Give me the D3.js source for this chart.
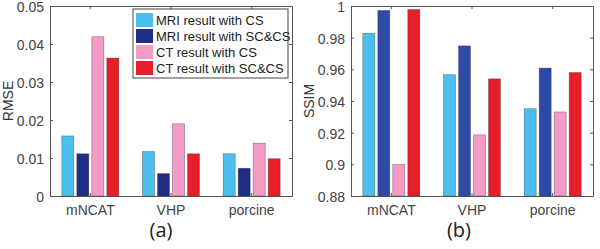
<!DOCTYPE html>
<html>
<head>
<meta charset="utf-8">
<script src="https://cdn.jsdelivr.net/npm/d3@7"></script>
<style>
  body { margin: 0; background: #fff; }
  svg { display: block; }
</style>
</head>
<body>
<div id="chart"></div>
<script>
// data
const categories = ["mNCAT", "VHP", "porcine"];
const series = ["MRI result with CS", "MRI result with SC&CS", "CT result with CS", "CT result with SC&CS"];

// RMSE per series, one value per category
const rmseMriCS   = [0.0158, 0.0117, 0.0111];
const rmseMriSCCS = [0.0111, 0.0059, 0.0073];
const rmseCtCS    = [0.0419, 0.0190, 0.0139];
const rmseCtSCCS  = [0.0363, 0.0111, 0.0098];

// SSIM per series
const ssimMriCS   = [0.9828, 0.9566, 0.9351];
const ssimMriSCCS = [0.9972, 0.9748, 0.9608];
const ssimCtCS    = [0.8998, 0.9186, 0.9331];
const ssimCtSCCS  = [0.9978, 0.9540, 0.9580];

const rmseTicks = [0, 0.01, 0.02, 0.03, 0.04, 0.05];
const ssimTicks = [0.88, 0.9, 0.92, 0.94, 0.96, 0.98, 1];

const colorsA = ["#4dbfee", "#1f2d84", "#f59bc8", "#e81e2a"];
const colorsB = ["#4dbfee", "#2f4aa6", "#f59bc8", "#e81e2a"];

const width = 600;
const height = 249;

const svg = d3.select("#chart").append("svg")
  .attr("width", width)
  .attr("height", height)
  .attr("viewBox", [0, 0, width, height])
  .style("font-family", "'Liberation Sans', Arial, sans-serif");

// zeichnet ein Panel (Achsenbox + gruppierte Balken)
function drawPanel(opt) {
  const { left, right, top, bottom, domain, ticks, values, colors, ylabel, caption, captionX } = opt;

  const rows = categories.map((c, i) => ({
    category: c,
    vals: values.map((s, j) => ({ key: series[j], value: s[i], color: colors[j] }))
  }));

  const x0 = d3.scaleBand()
    .domain(categories)
    .range([left, right])
    .padding(0);

  const x1 = d3.scaleBand()
    .domain(series)
    .range([-30, 30])
    .paddingInner(0.2)
    .paddingOuter(0.1);

  const y = d3.scaleLinear()
    .domain(domain)
    .range([bottom, top]);

  const g = svg.append("g");

  // Balken
  g.append("g")
    .selectAll("g")
    .data(rows)
    .join("g")
    .attr("transform", d => `translate(${x0(d.category) + x0.bandwidth() / 2},0)`)
    .selectAll("rect")
    .data(d => d.vals)
    .join("rect")
    .attr("x", d => x1(d.key))
    .attr("y", d => y(d.value))
    .attr("width", x1.bandwidth())
    .attr("height", d => y(domain[0]) - y(d.value))
    .attr("fill", d => d.color)
    .attr("stroke", "#3a3a3a")
    .attr("stroke-opacity", 0.6)
    .attr("stroke-width", 0.6);

  // linke Achse
  g.append("g")
    .attr("transform", `translate(${left},0)`)
    .call(d3.axisLeft(y).tickValues(ticks).tickFormat(d3.format("~g")).tickSizeInner(-3).tickSizeOuter(0).tickPadding(6))
    .call(a => a.select(".domain").attr("stroke", "#555"))
    .call(a => a.selectAll(".tick line").attr("stroke", "#555"))
    .call(a => a.selectAll("text").attr("fill", "#444").attr("dy", "0.4em").style("font-size", "14px").attr("font-family", null));

  // rechte Achse (nur Ticks)
  g.append("g")
    .attr("transform", `translate(${right},0)`)
    .call(d3.axisRight(y).tickValues(ticks).tickFormat("").tickSizeInner(-3).tickSizeOuter(0))
    .call(a => a.select(".domain").attr("stroke", "#555"))
    .call(a => a.selectAll(".tick line").attr("stroke", "#555"));

  // untere Achse
  g.append("g")
    .attr("transform", `translate(0,${bottom})`)
    .call(d3.axisBottom(x0).tickSizeInner(-3).tickSizeOuter(0).tickPadding(9))
    .call(a => a.select(".domain").attr("stroke", "#555"))
    .call(a => a.selectAll(".tick line").attr("stroke", "#555"))
    .call(a => a.selectAll("text").attr("fill", "#444").style("font-size", "14px").attr("font-family", null));

  // obere Achse
  g.append("g")
    .attr("transform", `translate(0,${top})`)
    .call(d3.axisTop(x0).tickFormat("").tickSizeInner(-3).tickSizeOuter(0))
    .call(a => a.select(".domain").attr("stroke", "#555"))
    .call(a => a.selectAll(".tick line").attr("stroke", "#555"));

  // y-Beschriftung
  g.append("text")
    .attr("transform", `translate(${left - 37},${(top + bottom) / 2}) rotate(-90)`)
    .attr("text-anchor", "middle")
    .attr("fill", "#333")
    .style("font-size", "14px")
    .text(ylabel);

  // (a) / (b)
  g.append("text")
    .attr("x", captionX)
    .attr("y", 237)
    .attr("text-anchor", "middle")
    .attr("fill", "#222")
    .style("font-family", "'Open Sans', sans-serif")
    .style("font-size", "20px")
    .text(caption);
}

drawPanel({
  left: 50, right: 292, top: 6, bottom: 196,
  domain: [0, 0.05], ticks: rmseTicks,
  values: [rmseMriCS, rmseMriSCCS, rmseCtCS, rmseCtSCCS],
  colors: colorsA, ylabel: "RMSE", caption: "(a)", captionX: 161
});

drawPanel({
  left: 351, right: 593, top: 6, bottom: 196,
  domain: [0.88, 1], ticks: ssimTicks,
  values: [ssimMriCS, ssimMriSCCS, ssimCtCS, ssimCtSCCS],
  colors: colorsB, ylabel: "SSIM", caption: "(b)", captionX: 459
});

// Legende im linken Panel
const legend = svg.append("g").attr("transform", "translate(133,9)");
legend.append("rect")
  .attr("width", 155)
  .attr("height", 69)
  .attr("fill", "#fff")
  .attr("stroke", "#444")
  .attr("stroke-width", 1);

const item = legend.selectAll("g.item")
  .data(series)
  .join("g")
  .attr("class", "item")
  .attr("transform", (d, i) => `translate(3,${4 + i * 16})`);

item.append("rect")
  .attr("width", 17)
  .attr("height", 14)
  .attr("fill", (d, i) => colorsA[i]);

item.append("text")
  .attr("x", 20)
  .attr("y", 12)
  .attr("fill", "#222")
  .style("font-size", "13px")
  .text(d => d);
</script>
</body>
</html>
